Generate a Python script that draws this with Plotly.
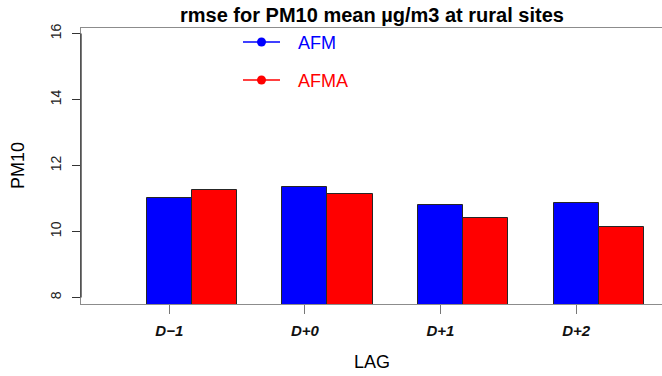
import numpy as np
import plotly.graph_objects as go

# ---- data ----
lags = ["D\u22121", "D+0", "D+1", "D+2"]
afm = [11.00, 11.35, 10.79, 10.87]
afma = [11.25, 11.15, 10.42, 10.13]
y_ticks = [8, 10, 12, 14, 16]
series_names = ["AFM", "AFMA"]
series_colors = ["#0000FF", "#FF0000"]

# ---- layout geometry (pixels) ----
W, H = 662, 376
ML, MR, MT, MB = 81, 0, 28, 72
PW, PH = W - ML - MR, H - MT - MB
FONT = "Liberation Sans, Arial, Helvetica, sans-serif"

# R-style beside barplot: unit-width bars, one unit gap between groups
idx = np.arange(len(lags))
x_afm = idx * 3 + 1.5
x_afma = idx * 3 + 2.5

def px_x(p):
    return (p - ML) / PW

def px_y(p):
    return (H - MB - p) / PH

fig = go.Figure()
for xs, vals, name, col in [(x_afm, afm, series_names[0], series_colors[0]),
                            (x_afma, afma, series_names[1], series_colors[1])]:
    fig.add_trace(go.Bar(
        x=xs, y=vals, width=1.0, name=name,
        marker=dict(color=col, line=dict(color="#262626", width=1)),
        showlegend=False,
    ))

shapes = [
    # dark axis segment spanning the tick range
    dict(type="line", xref="paper", yref="y", x0=0, x1=0,
         y0=min(y_ticks), y1=max(y_ticks), line=dict(color="#333333", width=1.3)),
]
annotations = [
    dict(text="<b>rmse for PM10 mean \u00b5g/m3 at rural sites</b>", xref="paper", yref="paper",
         x=0.5, y=px_y(15), xanchor="center", yanchor="middle", showarrow=False,
         font=dict(family=FONT, size=20, color="black")),
    # axis titles
    dict(text="LAG", xref="paper", yref="paper", x=0.5, y=px_y(362),
         xanchor="center", yanchor="middle", showarrow=False,
         font=dict(family=FONT, size=18, color="black")),
    dict(text="PM10", xref="paper", yref="paper", x=px_x(18), y=0.5, textangle=-90,
         xanchor="center", yanchor="middle", showarrow=False,
         font=dict(family=FONT, size=18, color="black")),
]

# legend: line with dot, coloured label
leg_rows = [42, 80]
for name, col, ypx in zip(series_names, series_colors, leg_rows):
    yy = px_y(ypx)
    shapes.append(dict(type="line", xref="paper", yref="paper", x0=px_x(243), x1=px_x(280),
                       y0=yy, y1=yy, line=dict(color=col, width=1.5)))
    shapes.append(dict(type="circle", xref="paper", yref="paper", xsizemode="pixel",
                       ysizemode="pixel", xanchor=px_x(261.5), yanchor=yy,
                       x0=-4.5, x1=4.5, y0=-4.5, y1=4.5,
                       fillcolor=col, line=dict(color=col, width=0)))
    annotations.append(dict(text=name, xref="paper", yref="paper", x=px_x(296),
                            y=px_y(ypx + 1), xanchor="left", yanchor="middle", showarrow=False,
                            font=dict(family=FONT, size=18, color=col)))

fig.update_layout(
    width=W, height=H,
    margin=dict(l=ML, r=MR, t=MT, b=MB, pad=0),
    paper_bgcolor="white", plot_bgcolor="white",
    barmode="overlay", bargap=0,
    font=dict(family=FONT, color="black"),
    shapes=shapes, annotations=annotations,
    xaxis=dict(
        range=[-0.453, 12.40], tickvals=x_afm,
        ticktext=[f"<b><i>{t}</i></b>" for t in lags],
        ticks="outside", ticklen=9, tickcolor="#777777", tickwidth=1,
        tickfont=dict(family=FONT, size=15, color="#111111"),
        ticklabelstandoff=4,
        showline=True, linecolor="#8c8c8c", linewidth=1.3, mirror=True,
        showgrid=False, zeroline=False,
    ),
    yaxis=dict(
        range=[7.80, 16.17], tickvals=y_ticks, ticktext=[str(v) for v in y_ticks],
        tickangle=-90,
        ticks="outside", ticklen=8, tickcolor="#333333", tickwidth=1.3,
        tickfont=dict(family=FONT, size=14, color="#222222"),
        ticklabelstandoff=5,
        showline=True, linecolor="#8c8c8c", linewidth=1.3, mirror=False,
        showgrid=False, zeroline=False,
    ),
)

fig.write_html("out.html")
